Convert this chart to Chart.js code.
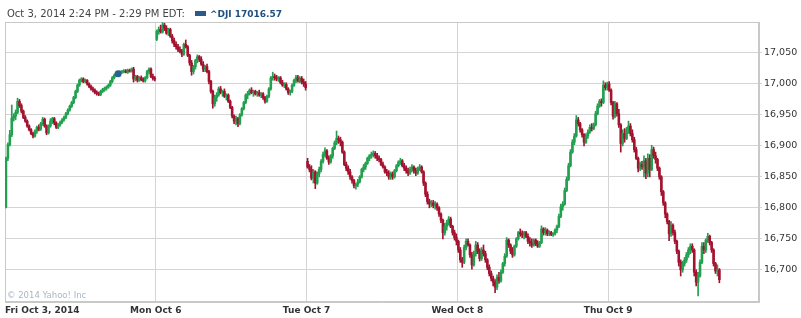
<!DOCTYPE html>
<html><head><meta charset="utf-8">
<script src="https://cdn.jsdelivr.net/npm/chart.js@4.4.1/dist/chart.umd.min.js"></script>
<style>
html,body{margin:0;padding:0;background:#fff;}
#wrap{position:relative;width:801px;height:318px;overflow:hidden;background:#fff;}
canvas{position:absolute;left:0;top:0;}
#hdr{position:absolute;left:7px;top:8px;font-family:"DejaVu Sans",Verdana,sans-serif;font-size:10px;color:#444;white-space:nowrap;line-height:12px;}
#hdr .sw{display:inline-block;width:11px;height:5px;background:#2a5a8a;margin:0 4px 0 10px;vertical-align:1px;}
#hdr b{color:#1f4f7f;font-size:9px;}
#copy{position:absolute;left:7px;top:290px;font-family:"DejaVu Sans",sans-serif;font-size:8.5px;color:#a9b6c4;white-space:nowrap;}
</style></head><body>
<div id="wrap"><canvas id="c" width="801" height="318"></canvas>
<div id="hdr">Oct 3, 2014 2:24 PM - 2:29 PM EDT:<span class="sw"></span><b>^DJI 17016.57</b></div>
<div id="copy">© 2014 Yahoo! Inc</div></div>
<script>
// ---- tick labels / categories ----
const dayLabels = ["Fri Oct 3, 2014","Mon Oct 6","Tue Oct 7","Wed Oct 8","Thu Oct 9",""];
const candlesPerDay = 78;
const yTickValues = [16700,16750,16800,16850,16900,16950,17000,17050];
const yTickLabels = ["16,700","16,750","16,800","16,850","16,900","16,950","17,000","17,050"];
const yMin = 16648, yMax = 17100;
const hoverIndex = 58, hoverValue = 17016.57;

// ---- Fri Oct 3 ----
const friOpen  = [16801,16880,16902,16918,16945,16948,16954,16972,16965,16956,16946,16940,16932,16926,16920,16916,16924,16930,16927,16936,16943,16932,16921,16932,16940,16944,16937,16930,16934,16938,16942,16946,16952,16958,16964,16970,16978,16988,16998,17006,17008,17004,17006,17000,16996,16992,16990,16986,16985,16983,16988,16991,16993,16995,16998,17004,17010,17014,17017,17016,17019,17020,17021,17019,17022,17021,17024,17008,17012,17006,17010,17007,17005,17010,17020,17024,17012,17009];
const friHigh  = [16882,16905,16925,16966,16952,16958,16977,16975,16968,16958,16949,16942,16934,16928,16922,16926,16932,16934,16938,16946,16945,16934,16934,16944,16946,16946,16939,16936,16940,16944,16948,16954,16960,16966,16972,16980,16990,17000,17008,17010,17010,17008,17007,17002,16998,16995,16992,16989,16987,16990,16993,16995,16997,17000,17006,17012,17016,17019,17020,17021,17022,17023,17023,17024,17024,17026,17027,17014,17014,17012,17013,17010,17012,17022,17026,17026,17016,17012];
const friLow   = [16800,16876,16900,16915,16940,16942,16952,16962,16953,16944,16938,16930,16924,16918,16913,16914,16920,16924,16925,16933,16930,16918,16919,16930,16936,16934,16928,16928,16932,16936,16940,16944,16950,16956,16962,16968,16976,16986,16996,17003,17002,17002,16998,16994,16990,16987,16984,16982,16981,16981,16986,16988,16990,16993,16996,17002,17008,17012,17014,17015,17017,17018,17018,17017,17019,17019,17003,17005,17003,17004,17005,17003,17003,17008,17016,17010,17006,17005];
const friClose = [16880,16902,16918,16945,16948,16954,16972,16965,16956,16946,16940,16932,16926,16920,16916,16924,16930,16927,16936,16943,16932,16921,16932,16940,16944,16937,16930,16934,16938,16942,16946,16952,16958,16964,16970,16978,16988,16998,17006,17008,17004,17006,17000,16996,16992,16990,16986,16985,16983,16988,16991,16993,16995,16998,17004,17010,17014,17017,17016,17019,17020,17021,17019,17022,17021,17024,17008,17012,17006,17010,17007,17005,17010,17020,17024,17012,17009,17008];

// ---- Mon Oct 6 ----
const monOpen  = [17072,17085,17088,17084,17095,17090,17082,17088,17077,17070,17064,17060,17055,17053,17048,17064,17060,17046,17034,17020,17028,17038,17044,17040,17032,17024,17028,17020,17004,16988,16968,16978,16982,16992,16986,16988,16980,16982,16972,16962,16948,16940,16944,16936,16950,16960,16970,16982,16984,16990,16986,16988,16984,16986,16982,16984,16978,16972,16980,16992,17010,17012,17010,17008,17010,17002,16998,16999,16992,16986,16988,16998,17006,17010,17005,17009,17003,17000];
const monHigh  = [17087,17092,17095,17099,17098,17094,17090,17090,17080,17074,17068,17064,17060,17056,17066,17071,17062,17048,17038,17030,17040,17047,17046,17044,17036,17030,17032,17022,17006,16990,16982,16986,16995,16996,16990,16992,16984,16984,16974,16964,16950,16948,16946,16952,16962,16972,16984,16988,16992,16994,16990,16990,16988,16990,16986,16986,16980,16982,16994,17012,17019,17016,17014,17012,17012,17006,17002,17002,16994,16990,17000,17008,17014,17014,17012,17012,17008,17004];
const monLow   = [17070,17080,17082,17082,17086,17080,17078,17075,17066,17060,17056,17052,17050,17044,17046,17058,17044,17030,17014,17016,17024,17034,17036,17030,17020,17020,17018,17000,16985,16961,16964,16972,16980,16984,16980,16978,16974,16970,16960,16945,16936,16934,16931,16934,16948,16958,16968,16976,16982,16984,16980,16982,16980,16980,16978,16975,16969,16970,16978,16990,17006,17006,17005,17004,17000,16996,16994,16990,16983,16982,16986,16996,17002,17003,17002,17000,16996,16990];
const monClose = [17085,17088,17084,17095,17090,17082,17088,17077,17070,17064,17060,17055,17053,17048,17064,17060,17046,17034,17020,17028,17038,17044,17040,17032,17024,17028,17020,17004,16988,16968,16978,16982,16992,16986,16988,16980,16982,16972,16962,16948,16940,16944,16936,16950,16960,16970,16982,16984,16990,16986,16988,16984,16986,16982,16984,16978,16972,16980,16992,17010,17012,17010,17008,17010,17002,16998,16999,16992,16986,16988,16998,17006,17010,17005,17009,17003,17000,16994];

// ---- Tue Oct 7 ----
const tueOpen  = [16875,16866,16862,16848,16858,16840,16855,16862,16875,16886,16892,16880,16874,16884,16896,16905,16912,16910,16906,16890,16870,16864,16858,16850,16844,16836,16838,16842,16850,16862,16866,16872,16880,16884,16886,16888,16884,16880,16878,16870,16866,16858,16856,16850,16855,16850,16860,16868,16874,16876,16868,16864,16860,16856,16862,16866,16860,16856,16864,16866,16858,16840,16822,16810,16806,16808,16804,16806,16800,16790,16780,16760,16770,16776,16782,16770,16760,16752];
const tueHigh  = [16880,16870,16868,16862,16860,16858,16866,16878,16890,16897,16894,16884,16886,16898,16908,16924,16916,16914,16908,16892,16874,16868,16862,16852,16846,16840,16846,16852,16864,16870,16874,16882,16886,16890,16892,16891,16888,16884,16880,16874,16868,16862,16860,16858,16858,16862,16870,16876,16880,16878,16872,16868,16864,16866,16870,16868,16864,16866,16870,16868,16860,16842,16826,16814,16812,16812,16810,16808,16802,16792,16782,16775,16780,16786,16785,16772,16764,16758];
const tueLow   = [16864,16858,16845,16840,16831,16838,16850,16858,16872,16882,16878,16870,16872,16880,16894,16902,16904,16900,16888,16868,16860,16854,16846,16840,16832,16830,16834,16840,16848,16858,16862,16870,16876,16880,16882,16880,16876,16874,16868,16864,16856,16852,16846,16846,16846,16848,16858,16866,16870,16866,16860,16856,16852,16854,16858,16856,16852,16854,16860,16856,16836,16818,16806,16800,16802,16800,16798,16796,16786,16776,16750,16756,16764,16772,16768,16756,16748,16740];
const tueClose = [16866,16862,16848,16858,16840,16855,16862,16875,16886,16892,16880,16874,16884,16896,16905,16912,16910,16906,16890,16870,16864,16858,16850,16844,16836,16838,16842,16850,16862,16866,16872,16880,16884,16886,16888,16884,16880,16878,16870,16866,16858,16856,16850,16855,16850,16860,16868,16874,16876,16868,16864,16860,16856,16862,16866,16860,16856,16864,16866,16858,16840,16822,16810,16806,16808,16804,16806,16800,16790,16780,16760,16770,16776,16782,16770,16760,16752,16746];

// ---- Wed Oct 8 ----
const wedOpen  = [16746,16732,16716,16712,16736,16746,16740,16724,16708,16726,16740,16730,16718,16732,16726,16716,16704,16694,16686,16680,16672,16688,16682,16696,16710,16722,16748,16740,16730,16724,16738,16750,16760,16758,16756,16760,16754,16746,16744,16740,16748,16742,16738,16744,16766,16760,16764,16758,16760,16757,16758,16764,16770,16786,16802,16806,16828,16846,16868,16890,16906,16916,16942,16936,16926,16918,16906,16916,16922,16930,16928,16934,16952,16964,16972,16970,16998,16994];
const wedHigh  = [16748,16736,16720,16740,16750,16750,16742,16728,16730,16746,16744,16734,16736,16740,16730,16718,16708,16698,16690,16684,16692,16696,16700,16712,16726,16752,16750,16742,16736,16740,16752,16762,16766,16763,16762,16762,16758,16752,16750,16750,16750,16747,16746,16771,16768,16768,16766,16763,16762,16760,16766,16772,16790,16806,16810,16832,16850,16872,16894,16910,16920,16949,16946,16938,16928,16920,16920,16926,16934,16936,16937,16956,16968,16975,16976,17005,17002,17003];
const wedLow   = [16728,16712,16704,16710,16732,16738,16720,16701,16706,16722,16726,16714,16715,16722,16712,16700,16690,16682,16674,16663,16668,16678,16680,16694,16706,16720,16736,16726,16720,16722,16736,16748,16754,16752,16750,16752,16742,16738,16736,16738,16739,16736,16736,16742,16756,16756,16755,16755,16755,16754,16756,16760,16768,16784,16796,16804,16826,16844,16866,16888,16902,16914,16932,16922,16914,16900,16904,16912,16920,16924,16926,16932,16950,16962,16964,16968,16990,16990];
const wedClose = [16732,16716,16712,16736,16746,16740,16724,16708,16726,16740,16730,16718,16732,16726,16716,16704,16694,16686,16680,16672,16688,16682,16696,16710,16722,16748,16740,16730,16724,16738,16750,16760,16758,16756,16760,16754,16746,16744,16740,16748,16742,16738,16744,16766,16760,16764,16758,16760,16757,16758,16764,16770,16786,16802,16806,16828,16846,16868,16890,16906,16916,16942,16936,16926,16918,16906,16916,16922,16930,16928,16934,16952,16964,16972,16970,16998,16994,17000];

// ---- Thu Oct 9 ----
const thuOpen  = [17000,16990,16970,16948,16968,16952,16934,16904,16920,16912,16926,16932,16920,16910,16894,16880,16864,16870,16866,16876,16856,16880,16862,16894,16884,16878,16864,16850,16826,16808,16790,16778,16758,16772,16760,16746,16730,16712,16700,16710,16716,16724,16732,16738,16732,16696,16680,16690,16712,16738,16732,16748,16754,16744,16732,16710,16698,16700];
const thuHigh  = [17004,16992,16972,16972,16970,16959,16936,16926,16928,16930,16940,16936,16926,16914,16898,16882,16874,16875,16884,16880,16887,16886,16901,16898,16890,16880,16866,16852,16828,16810,16792,16780,16778,16774,16764,16748,16732,16716,16714,16720,16728,16736,16742,16742,16734,16700,16696,16716,16744,16744,16750,16759,16756,16746,16734,16712,16708,16702];
const thuLow   = [16988,16966,16943,16945,16948,16930,16890,16900,16906,16910,16920,16916,16906,16890,16878,16858,16860,16862,16850,16847,16850,16850,16860,16880,16872,16860,16846,16820,16804,16784,16774,16747,16754,16756,16742,16726,16706,16690,16696,16706,16712,16720,16726,16728,16690,16674,16658,16688,16710,16726,16728,16744,16740,16728,16706,16694,16690,16679];
const thuClose = [16990,16970,16948,16968,16952,16934,16904,16920,16912,16926,16932,16920,16910,16894,16880,16864,16870,16866,16876,16856,16880,16862,16894,16884,16878,16864,16850,16826,16808,16790,16778,16758,16772,16760,16746,16730,16712,16700,16710,16716,16724,16732,16738,16732,16696,16680,16690,16712,16738,16732,16748,16754,16744,16732,16710,16698,16700,16684];

const days = [
  [friOpen, friHigh, friLow, friClose],
  [monOpen, monHigh, monLow, monClose],
  [tueOpen, tueHigh, tueLow, tueClose],
  [wedOpen, wedHigh, wedLow, wedClose],
  [thuOpen, thuHigh, thuLow, thuClose]
];

const UP = '#22a050', DOWN = '#a3122f';
const bodies = [], wicks = [], isUp = [];
days.forEach((d, di) => {
  d[0].forEach((o, j) => {
    const x = di * candlesPerDay + j + 0.5;
    bodies.push({x: x, y: [o, d[3][j]]});
    wicks.push({x: x, y: [d[2][j], d[1][j]]});
    isUp.push(d[3][j] >= o);
  });
});
const colorFn = ctx => isUp[ctx.dataIndex] ? UP : DOWN;

const frame = {
  id: 'frame',
  beforeDatasetsDraw(chart) {
    const a = chart.chartArea, c = chart.ctx;
    c.save();
    c.strokeStyle = '#c8c8c8';
    c.lineWidth = 1;
    c.strokeRect(Math.round(a.left) + 0.5, Math.round(a.top) + 0.5, Math.round(a.right - a.left) - 1, Math.round(a.bottom - a.top) - 1);
    c.restore();
  }
};

new Chart(document.getElementById('c'), {
  type: 'bar',
  data: {
    datasets: [
      {type: 'scatter', data: [{x: hoverIndex + 0.5, y: hoverValue}], pointRadius: 3.5, pointBackgroundColor: '#2b5f92', pointBorderWidth: 0, order: 0},
      {data: bodies, backgroundColor: colorFn, grouped: false, categoryPercentage: 1, barPercentage: 1, order: 1, borderWidth: 0},
      {data: wicks, backgroundColor: colorFn, grouped: false, categoryPercentage: 1, barPercentage: 1, maxBarThickness: 1, order: 2, borderWidth: 0}
    ]
  },
  options: {
    responsive: false,
    animation: false,
    events: [],
    layout: {padding: {left: 5, top: 22, right: 0, bottom: 0}},
    plugins: {legend: {display: false}, tooltip: {enabled: false}},
    scales: {
      x: {
        type: 'linear', min: 0, max: candlesPerDay * 5, offset: false,
        afterBuildTicks: s => { s.ticks = dayLabels.map((l, i) => ({value: i * candlesPerDay})); },
        afterFit: s => { s.height = 16; },
        ticks: {autoSkip: false, maxRotation: 0, align: 'inner', padding: 3, color: '#333',
          font: {family: 'DejaVu Sans', size: 9, weight: 'bold'},
          callback: (v, i) => dayLabels[i]},
        grid: {color: '#d4d4d4', drawTicks: false, offset: false},
        border: {display: true, color: '#c8c8c8'}
      },
      y: {
        position: 'right', min: yMin, max: yMax,
        afterBuildTicks: s => { s.ticks = yTickValues.map(v => ({value: v})); },
        afterFit: s => { s.width = 42; },
        ticks: {padding: 2, color: '#333', font: {family: 'DejaVu Sans', size: 9.5},
          callback: (v, i) => yTickLabels[i]},
        grid: {color: '#d4d4d4', tickLength: 3},
        border: {display: true, color: '#c8c8c8'}
      }
    }
  },
  plugins: [frame]
});
</script>
</body></html>
